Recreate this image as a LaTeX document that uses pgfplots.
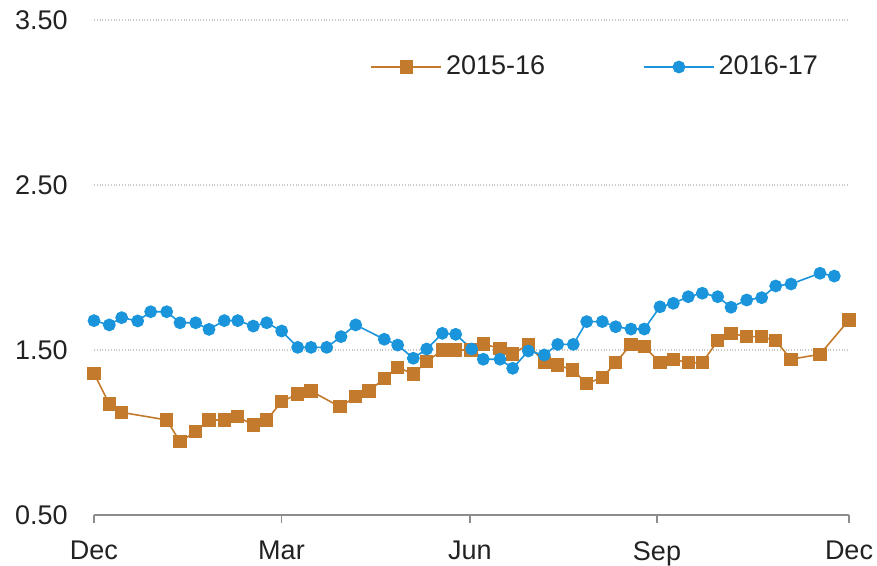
\documentclass[border=0pt]{standalone}
\usepackage{pgfplots}
\pgfplotsset{compat=1.18}
\usepackage{fontspec}
\setmainfont{Liberation Sans}

\definecolor{c1516}{HTML}{C47A2C}
\definecolor{c1617}{HTML}{1A95DC}
\definecolor{axgray}{HTML}{8C8C8C}
\definecolor{gridgray}{HTML}{C8C8C8}
\definecolor{txt}{HTML}{222222}

% x = weeks in pixels from the first December (0..755), y = value
\pgfplotstableread{
x y
0 1.359
15.3 1.173
27.7 1.122
72.7 1.076
86 0.944
101.7 1.005
115 1.076
130.3 1.076
143.7 1.096
159.3 1.045
172.7 1.076
187.7 1.187
203.7 1.233
217 1.251
246 1.156
261.7 1.217
275 1.251
290.3 1.328
303.7 1.395
319.3 1.355
332.7 1.429
348.3 1.500
361.7 1.500
377 1.500
389.3 1.536
406 1.510
418.7 1.476
434.3 1.534
450.3 1.423
463.7 1.409
478.7 1.379
492.7 1.298
508.3 1.332
521.7 1.423
537 1.534
550.3 1.520
566 1.423
579.3 1.444
594.3 1.423
608.3 1.423
623.7 1.556
637 1.601
652.7 1.581
667.7 1.581
681.7 1.556
697 1.444
726 1.474
755 1.682
}\seasonA

\pgfplotstableread{
x y
0 1.678
15.3 1.652
27.7 1.696
43.7 1.676
56.7 1.732
72.7 1.732
86 1.665
101.7 1.665
115 1.625
130.3 1.678
143.7 1.678
159.3 1.645
172.7 1.665
187.7 1.615
203.7 1.516
217 1.516
232.7 1.516
247 1.581
261.7 1.652
290.3 1.565
303.7 1.530
319.3 1.450
332.7 1.506
348.3 1.601
361.7 1.595
377.7 1.506
389.3 1.444
406 1.444
418.7 1.389
434.3 1.494
450.3 1.470
463.7 1.534
479.3 1.534
492.7 1.672
508.3 1.672
521.7 1.641
537 1.627
550.3 1.627
566 1.762
579.3 1.783
594.3 1.823
608.3 1.844
623.7 1.823
637 1.759
652.7 1.803
667.7 1.817
681.7 1.888
697 1.900
726 1.965
740.3 1.948
}\seasonB

\begin{document}
\fontsize{13.5}{16}\selectfont
\color{txt}
\begin{tikzpicture}
  \begin{axis}[
    scale only axis,
    width  = 377.5pt,
    height = 247.5pt,
    xmin = 0, xmax = 755,
    ymin = 0.5, ymax = 3.5,
    clip = false,
    axis x line = bottom,
    axis y line = left,
    x axis line style = {axgray, line width=0.9pt, -},
    y axis line style = {draw=none},
    xtick = {0,187.5,376,563,755},
    xticklabels = {Dec,Mar,Jun,Sep,Dec},
    ytick = {0.5,1.5,2.5,3.5},
    yticklabel style = {
      /pgf/number format/fixed,
      /pgf/number format/fixed zerofill,
      /pgf/number format/precision=2,
      /pgf/number format/assume math mode=true,
      inner sep=0pt, xshift=-9pt, text=txt},
    xticklabel style = {inner sep=0pt, yshift=-9pt, text=txt},
    tick align = outside,
    xtick style = {axgray, line width=0.9pt},
    ytick style = {draw=none},
    major tick length = 4pt,
    ymajorgrids,
    major grid style = {gridgray, densely dotted, line width=0.7pt},
    legend columns = 2,
    legend style = {
      at = {(0.3656,0.905)}, anchor = west,
      draw = none, fill = none,
      inner sep = 0pt,
      /tikz/every even column/.append style = {column sep=47pt},
      text = txt,
    },
    legend cell align = left,
    legend image code/.code = {
      \draw[mark repeat=2, mark phase=2, #1]
        plot coordinates {(0pt,0pt) (17.5pt,0pt) (35pt,0pt)};
    },
  ]
    \addplot[c1516, line width=0.8pt, mark=square*, mark size=2.9pt,
             mark options={solid, fill=c1516, draw=c1516}] table {\seasonA};
    \addlegendentry{2015-16}
    \addplot[c1617, line width=0.8pt, mark=*, mark size=2.8pt,
             mark options={solid, fill=c1617, draw=c1617}] table {\seasonB};
    \addlegendentry{2016-17}
    \path (rel axis cs:-0.1245,-0.099) rectangle (rel axis cs:1.0371,1.0404);
  \end{axis}
\end{tikzpicture}
\end{document}
